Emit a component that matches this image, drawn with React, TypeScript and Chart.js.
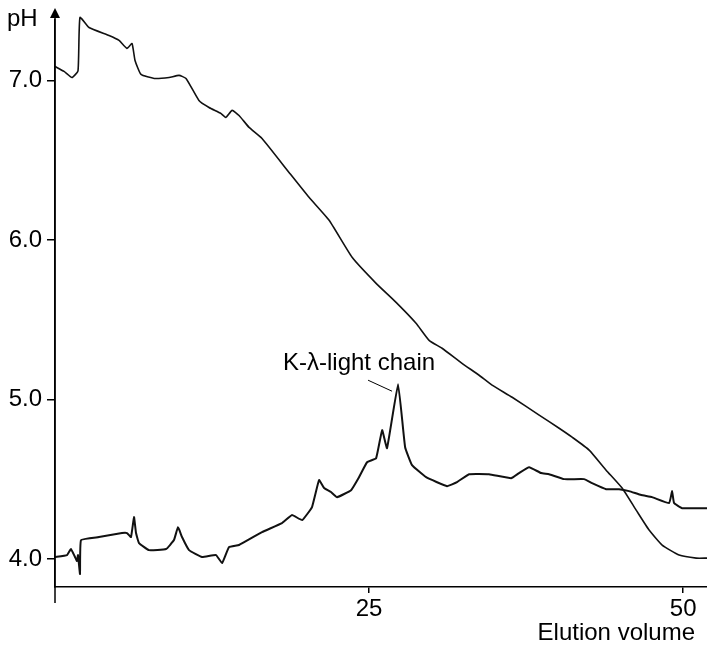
import React, { useEffect, useRef } from "react";
import { Chart, registerables } from "chart.js";

Chart.register(...registerables);

// pH gradient (upper curve)
const volumeGradient = [0, 0.72, 1.35, 1.83, 1.99, 2.71, 4.3, 5.1, 5.73, 6.13, 6.37, 6.85, 7.9, 9.08, 9.87, 10.43, 11.46, 12.26, 13.2, 13.6, 14.1, 14.65, 15.45, 16.48, 18.63, 20.22, 21.82, 23.65, 25.56, 27.15, 28.74, 29.78, 30.81, 32.4, 33.76, 34.79, 36.39, 38.54, 40.13, 41.16, 42.52, 43.87, 45.14, 46.26, 47.29, 48.33, 49.68, 51.04, 51.9];
const phGradient = [7.087, 7.056, 7.018, 7.06, 7.394, 7.331, 7.281, 7.25, 7.2, 7.231, 7.125, 7.037, 7.012, 7.018, 7.031, 7.012, 6.874, 6.83, 6.793, 6.768, 6.812, 6.78, 6.705, 6.636, 6.423, 6.267, 6.123, 5.891, 5.728, 5.609, 5.478, 5.371, 5.321, 5.227, 5.152, 5.09, 5.014, 4.902, 4.82, 4.764, 4.683, 4.557, 4.445, 4.307, 4.182, 4.088, 4.025, 4.006, 4.006];

// Elution profile (lower curve)
const volumeProfile = [0, 0.96, 1.27, 1.59, 1.75, 1.83, 1.99, 2.07, 3.5, 5.33, 5.73, 6.05, 6.29, 6.45, 6.69, 7.48, 8.84, 9.47, 9.79, 10.11, 10.67, 11.7, 12.82, 13.3, 13.85, 14.65, 16.48, 18.07, 18.87, 19.67, 20.46, 21.02, 21.42, 21.97, 22.45, 23.57, 24.2, 24.84, 25.56, 26.04, 26.43, 27.31, 27.87, 28.42, 29.54, 31.21, 32.0, 32.96, 34.55, 36.31, 36.94, 37.74, 38.69, 39.33, 40.53, 42.12, 42.75, 43.87, 44.9, 45.7, 46.66, 47.53, 48.89, 49.12, 49.28, 49.92, 51.9];
const phProfile = [4.013, 4.025, 4.063, 4.013, 3.988, 4.025, 3.906, 4.119, 4.138, 4.163, 4.163, 4.138, 4.263, 4.163, 4.1, 4.056, 4.063, 4.119, 4.2, 4.138, 4.056, 4.013, 4.025, 3.975, 4.075, 4.088, 4.169, 4.225, 4.276, 4.244, 4.326, 4.495, 4.445, 4.42, 4.388, 4.432, 4.513, 4.607, 4.632, 4.808, 4.695, 5.096, 4.701, 4.589, 4.513, 4.457, 4.482, 4.532, 4.532, 4.507, 4.539, 4.576, 4.539, 4.532, 4.501, 4.501, 4.476, 4.438, 4.438, 4.426, 4.401, 4.388, 4.351, 4.426, 4.351, 4.319, 4.319];

const xTicks = [25, 50];
const yTicks = [4, 5, 6, 7];

const annotationText = "K-\u03bb-light chain";
const annotationAt = [18.15, 5.227];
const leaderFrom = [24.92, 5.121];
const leaderTo = [26.83, 5.052];

const FONT = '"Liberation Sans", Arial, Helvetica, sans-serif';

export default function App() {
  const ref = useRef<HTMLCanvasElement | null>(null);

  useEffect(() => {
    if (!ref.current) return;
    const decor = {
      id: "decor",
      afterDraw(chart: any) {
        const { ctx, chartArea, scales } = chart;
        const xs = scales.x;
        const ys = scales.y;
        ctx.save();
        ctx.strokeStyle = "#000";
        ctx.fillStyle = "#000";
        ctx.lineWidth = 1.5;
        // y-axis: extend to arrow at top and below x axis
        ctx.beginPath();
        ctx.moveTo(chartArea.left, 14);
        ctx.lineTo(chartArea.left, chartArea.bottom + 16);
        ctx.stroke();
        // arrow head
        ctx.beginPath();
        ctx.moveTo(chartArea.left, 8);
        ctx.lineTo(chartArea.left - 5, 18);
        ctx.lineTo(chartArea.left + 5, 18);
        ctx.closePath();
        ctx.fill();
        ctx.font = `24px ${FONT}`;
        ctx.textBaseline = "middle";
        ctx.textAlign = "left";
        ctx.fillText("pH", 7, 19);
        ctx.textAlign = "right";
        ctx.fillText("Elution volume", 695, 633);
        // annotation
        ctx.textAlign = "left";
        ctx.fillText(annotationText, xs.getPixelForValue(annotationAt[0]), ys.getPixelForValue(annotationAt[1]));
        ctx.lineWidth = 1;
        ctx.beginPath();
        ctx.moveTo(xs.getPixelForValue(leaderFrom[0]), ys.getPixelForValue(leaderFrom[1]));
        ctx.lineTo(xs.getPixelForValue(leaderTo[0]), ys.getPixelForValue(leaderTo[1]));
        ctx.stroke();
        ctx.restore();
      },
    };

    const chart = new Chart(ref.current, {
      type: "scatter",
      data: {
        datasets: [
          {
            label: "pH gradient",
            data: volumeGradient.map((v, i) => ({ x: v, y: phGradient[i] })),
            showLine: true,
            borderColor: "#111",
            borderWidth: 1.6,
            pointRadius: 0,
            tension: 0.15,
            clip: false,
          },
          {
            label: "Elution profile",
            data: volumeProfile.map((v, i) => ({ x: v, y: phProfile[i] })),
            showLine: true,
            borderColor: "#111",
            borderWidth: 2,
            pointRadius: 0,
            tension: 0.1,
            clip: false,
          },
        ],
      },
      options: {
        responsive: false,
        animation: false,
        layout: { padding: 0, autoPadding: false },
        plugins: { legend: { display: false }, tooltip: { enabled: false } },
        scales: {
          x: {
            type: "linear",
            min: 0,
            max: 51.9,
            afterFit: (s: any) => { s.height = 652 - 587; },
            afterBuildTicks: (s: any) => { s.ticks = xTicks.map((value) => ({ value })); },
            grid: { drawOnChartArea: false, drawTicks: true, tickLength: 6, color: "#000", lineWidth: 1.5 },
            border: { display: true, color: "#000", width: 1.5 },
            ticks: { color: "#000", font: { family: FONT, size: 24 }, padding: 2, maxRotation: 0, callback: (v: any) => String(v) },
          },
          y: {
            type: "linear",
            min: 3.825,
            max: 7.382,
            afterFit: (s: any) => { s.width = 55; },
            afterBuildTicks: (s: any) => { s.ticks = yTicks.map((value) => ({ value })); },
            grid: { drawOnChartArea: false, drawTicks: true, tickLength: 8, color: "#000", lineWidth: 1.5 },
            border: { display: true, color: "#000", width: 1.5 },
            ticks: { color: "#000", font: { family: FONT, size: 24 }, padding: 5, callback: (v: any) => Number(v).toFixed(1) },
          },
        },
      },
      plugins: [decor],
    } as any);
    return () => chart.destroy();
  }, []);

  return (
    <div style={{ position: "fixed", left: 0, top: 0, width: 707, height: 652, background: "#fff" }}>
      <canvas ref={ref} width={707} height={652} style={{ display: "block" }} />
    </div>
  );
}
